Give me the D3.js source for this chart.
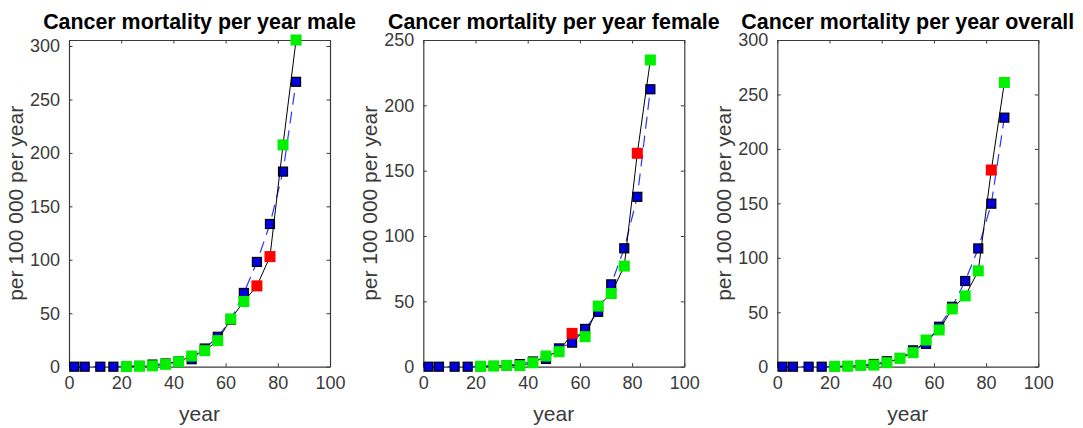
<!DOCTYPE html>
<html>
<head>
<meta charset="utf-8">
<script src="https://cdn.jsdelivr.net/npm/d3@7"></script>
<style>
  html, body { margin: 0; padding: 0; background: #fff; }
  svg { display: block; font-family: "Liberation Sans", Arial, Helvetica, sans-serif; }
</style>
</head>
<body>
<svg id="chart" width="1083" height="428"></svg>
<script>
// Age-group midpoints (years)
const modelAges = [2, 6, 12, 17, 22, 27, 32, 37, 42, 47, 52, 57, 62, 67, 72, 77, 82, 87];
const dataAges  = [22, 27, 32, 37, 42, 47, 52, 57, 62, 67, 72, 77, 82, 87];

// Model curve (per 100 000 per year)
const maleModel    = [0, 0, 0, 0, 0.3, 0.8, 2, 3, 5, 7, 17, 28, 44, 69, 98, 133.5, 182.5, 266.5];
const femaleModel  = [0, 0, 0, 0, 0.3, 0.6, 1, 2, 4, 6, 14, 18.4, 28.9, 42, 63, 90.6, 130, 212.3];
const overallModel = [0, 0, 0, 0, 0.3, 0.6, 1.5, 2.5, 5, 8, 15, 21, 36.7, 55, 78.7, 108.6, 149.7, 228.7];

// Observed mortality (per 100 000 per year)
const maleData    = [0.2, 0.4, 0.8, 2.2, 4.7, 10, 15, 24.4, 44.7, 61, 75.6, 103, 207.5, 305.6];
const femaleData  = [0.3, 0.5, 1, 0.8, 3, 8.2, 11.5, 25.5, 23, 46.4, 56, 77, 163.3, 234.7];
const overallData = [0.3, 0.5, 1.2, 1.5, 3.7, 7.7, 12.9, 24.5, 33.7, 53, 65, 88, 180.6, 261];

// Whether each observation falls outside the model's range (1 = outside)
const maleOutside    = [0, 0, 0, 0, 0, 0, 0, 0, 0, 0, 1, 1, 0, 0];
const femaleOutside  = [0, 0, 0, 0, 0, 0, 0, 1, 0, 0, 0, 0, 1, 0];
const overallOutside = [0, 0, 0, 0, 0, 0, 0, 0, 0, 0, 0, 0, 1, 0];

const titles = [
  "Cancer mortality per year male",
  "Cancer mortality per year female",
  "Cancer mortality per year overall"
];
const xTicks = [0, 20, 40, 60, 80, 100];
const yTicksMale    = [0, 50, 100, 150, 200, 250, 300];
const yTicksFemale  = [0, 50, 100, 150, 200, 250];
const yTicksOverall = [0, 50, 100, 150, 200, 250, 300];
const yMaxes = [305.6, 250, 300];

const panels = [
  { title: titles[0], model: maleModel,    data: maleData,    outside: maleOutside,    yTicks: yTicksMale,    yMax: yMaxes[0], left: 69 },
  { title: titles[1], model: femaleModel,  data: femaleData,  outside: femaleOutside,  yTicks: yTicksFemale,  yMax: yMaxes[1], left: 423.3 },
  { title: titles[2], model: overallModel, data: overallData, outside: overallOutside, yTicks: yTicksOverall, yMax: yMaxes[2], left: 777.3 }
];

const svg = d3.select("#chart");
const plotTop = 40, plotBottom = 366.7, plotWidth = 261;
const axisColor = "#3a3a3a";
const textColor = "#3a3a3a";
const tickLen = 3.5;

panels.forEach(p => {
  const x = d3.scaleLinear().domain([0, 100]).range([p.left, p.left + plotWidth]);
  const y = d3.scaleLinear().domain([0, p.yMax]).range([plotBottom, plotTop]);
  const g = svg.append("g");

  // Axes with inward ticks on all four sides
  const xb = g.append("g").attr("transform", `translate(0,${plotBottom})`)
    .call(d3.axisBottom(x).tickValues(xTicks).tickSizeInner(-tickLen).tickSizeOuter(0).tickPadding(10));
  const xt = g.append("g").attr("transform", `translate(0,${plotTop})`)
    .call(d3.axisTop(x).tickValues(xTicks).tickSizeInner(-tickLen).tickSizeOuter(0).tickFormat(""));
  const yl = g.append("g").attr("transform", `translate(${p.left},0)`)
    .call(d3.axisLeft(y).tickValues(p.yTicks).tickSizeInner(-tickLen).tickSizeOuter(0).tickPadding(9));
  const yr = g.append("g").attr("transform", `translate(${p.left + plotWidth},0)`)
    .call(d3.axisRight(y).tickValues(p.yTicks).tickSizeInner(-tickLen).tickSizeOuter(0).tickFormat(""));

  [xb, xt, yl, yr].forEach(a => {
    a.select(".domain").attr("stroke", axisColor).attr("stroke-width", 1.2);
    a.selectAll(".tick line").attr("stroke", axisColor).attr("stroke-width", 1);
    a.selectAll(".tick text").attr("fill", textColor).style("font-size", "18px");
  });
  xb.selectAll(".tick text").attr("dy", "0.71em");

  // Model curve: dashed blue line with blue square markers
  const modelPts = modelAges.map((a, i) => [a, p.model[i]]);
  const dataPts = dataAges.map((a, i) => [a, p.data[i], p.outside[i]]);
  const line = d3.line().x(d => x(d[0])).y(d => y(d[1]));

  g.append("path").datum(modelPts).attr("d", line)
    .attr("fill", "none").attr("stroke", "#2a36ff").attr("stroke-width", 1.2)
    .attr("stroke-dasharray", "12,7");
  const ms = 9;
  g.selectAll(".mm").data(modelPts).enter().append("rect")
    .attr("x", d => x(d[0]) - ms / 2).attr("y", d => y(d[1]) - ms / 2)
    .attr("width", ms).attr("height", ms)
    .attr("fill", "#0000e0").attr("stroke", "#000").attr("stroke-width", 1.2);

  // Observations: black line with green (within) / red (outside) squares
  g.append("path").datum(dataPts).attr("d", line)
    .attr("fill", "none").attr("stroke", "#000").attr("stroke-width", 1);
  const ds = 11;
  g.selectAll(".dm").data(dataPts).enter().append("rect")
    .attr("x", d => x(d[0]) - ds / 2).attr("y", d => y(d[1]) - ds / 2)
    .attr("width", ds).attr("height", ds)
    .attr("fill", d => d[2] ? "#ff0000" : "#00f000");

  // Title and axis labels
  g.append("text").attr("x", p.left + plotWidth / 2).attr("y", 28.5)
    .attr("text-anchor", "middle").attr("font-weight", "bold")
    .style("font-size", "21.4px").attr("fill", "#000").text(p.title);
  g.append("text").attr("x", p.left + plotWidth / 2).attr("y", plotBottom + 54)
    .attr("text-anchor", "middle").style("font-size", "21px").attr("fill", textColor).text("year");
  g.append("text")
    .attr("transform", `translate(${p.left - 46.5},${(plotTop + plotBottom) / 2}) rotate(-90)`)
    .attr("text-anchor", "middle").style("font-size", "21px").attr("fill", textColor)
    .text("per 100 000 per year");
});
</script>
</body>
</html>
